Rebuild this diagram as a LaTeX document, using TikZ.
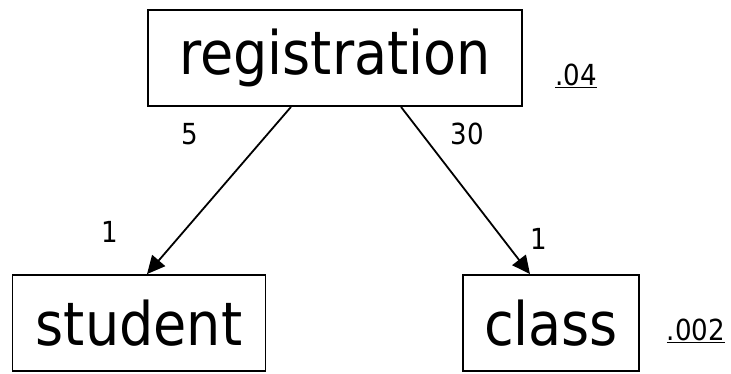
\documentclass[tikz,border=0pt]{standalone}
\usepackage{fontspec}
\setmainfont{DejaVu Sans Condensed}
\usetikzlibrary{arrows.meta}
\begin{document}
\begin{tikzpicture}[x=1pt,y=-1pt,
  ent/.style={draw,line width=1.8pt,inner sep=0pt,minimum height=96pt,font=\fontsize{60}{72}\selectfont},
  num/.style={inner sep=0pt,font=\fontsize{29}{34}\selectfont},
  rel/.style={line width=1.8pt,-{Triangle[length=18pt,width=17pt]}}]
\useasboundingbox (0,0) rectangle (731,374);
\node[ent,minimum width=374pt] (reg) at (335,58) {registration\hspace{16pt}};
\node[ent,minimum width=253pt] (student) at (139,323) {student};
\node[ent,minimum width=176pt] (class) at (551,323) {class};
\draw[rel] ([xshift=-44pt]reg.south) -- ([xshift=8pt]student.north);
\draw[rel] ([xshift=66pt]reg.south) -- ([xshift=-21pt]class.north);
\node[num] (n5) at (189.5,134) {5};
\node[num] (n30) at (467.5,134) {30};
\node[num] (n1a) at (110,232) {1};
\node[num] (n1b) at (539,239) {1};
\node[num] (r04) at (576,76) {\underline{.04}};
\node[num] (r002) at (696,331) {\underline{.002}};
\end{tikzpicture}
\end{document}
